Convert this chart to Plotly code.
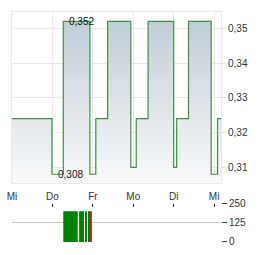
import plotly.graph_objects as go

# --- data ---
day_labels = ["Mi", "Do", "Fr", "Mo", "Di", "Mi"]
day_pos = [0, 1, 2, 3, 4, 5]

# price step series (time in trading-day units)
t = [0.0, 0.988, 1.268, 1.927, 2.073, 2.366, 2.939, 3.073, 3.366, 4.0, 4.073, 4.366, 4.927, 5.085, 5.17]
price = [0.324, 0.308, 0.352, 0.308, 0.324, 0.352, 0.310, 0.324, 0.352, 0.310, 0.324, 0.352, 0.308, 0.324, 0.324]

price_ticks = [0.31, 0.32, 0.33, 0.34, 0.35]

# volume bars
vol_t = [1.448, 1.720, 1.838, 1.903, 1.943]
vol_w = [0.359, 0.122, 0.018, 0.014, 0.066]
vol = [200, 200, 200, 200, 200]
vol_col = ["#008000", "#008000", "#008000", "#008000", "#b22222"]
vol_ticks = [0, 125, 250]

hi_t, hi_v = 1.268, 0.352
lo_t, lo_v = 0.988, 0.308

FONT = "Liberation Sans, Arial, sans-serif"

fig = go.Figure()
fig.add_trace(go.Scatter(
    x=t, y=price, mode="lines", line=dict(color="#3f8f3f", width=1.2, shape="hv"),
    fill="tozeroy",
    fillgradient=dict(type="vertical", colorscale=[[0, "#fbfcfc"], [1, "#c2cdd6"]],
                      start=0.3056, stop=0.352),
    xaxis="x", yaxis="y", hoverinfo="skip", showlegend=False))

fig.add_trace(go.Bar(
    x=vol_t, y=vol, width=vol_w, marker=dict(color=vol_col, line=dict(width=0)),
    xaxis="x2", yaxis="y2", showlegend=False, hoverinfo="skip"))

for xv, yv in [(hi_t, hi_v), (lo_t, lo_v)]:
    fig.add_annotation(x=xv, y=yv, xref="x", yref="y", text=f"{yv:.3f}".replace(".", ","),
                       showarrow=False, xanchor="left", yanchor="middle", xshift=4,
                       font=dict(family=FONT, size=10, color="#111"))

fig.update_layout(
    width=264, height=255, margin=dict(l=9, r=43, t=7, b=8),
    paper_bgcolor="white", plot_bgcolor="white", separators=",.",
    font=dict(family=FONT, size=10, color="#333"),
    xaxis=dict(domain=[0, 1], range=[0, 5.17], tickvals=day_pos, ticktext=day_labels,
               showgrid=True, gridcolor="#e8e8e8", gridwidth=1, zeroline=False,
               showline=True, linecolor="#e8e8e8", mirror=True, ticks="",
               ticklabelstandoff=4,
               anchor="y", tickfont=dict(size=10, color="#333")),
    yaxis=dict(domain=[0.2583, 1], range=[0.3056, 0.3547], side="right",
               tickvals=price_ticks, tickformat=".2f", showgrid=True, gridcolor="#e8e8e8",
               zeroline=False, showline=True, linecolor="#e8e8e8", mirror=True,
               ticks="outside", ticklen=4, tickcolor="#dddddd",
               tickfont=dict(size=10, color="#333"), anchor="x"),
    xaxis2=dict(domain=[0, 1], range=[0, 5.17], tickvals=day_pos, showticklabels=False,
                showgrid=False, zeroline=False, showline=False, side="top",
                ticks="inside", ticklen=3, tickcolor="#222", anchor="y2"),
    yaxis2=dict(domain=[0, 0.1667], range=[0, 250], side="right", tickvals=vol_ticks,
                showgrid=True, gridcolor="#c8c8c8", zeroline=False, showline=False,
                ticks="outside", ticklen=5, tickcolor="#444",
                tickfont=dict(size=10, color="#333"), anchor="x2"),
)

fig.write_html("out.html")
